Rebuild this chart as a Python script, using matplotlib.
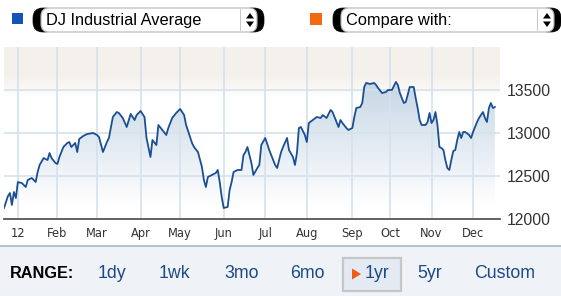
import numpy as np
import pandas as pd
import matplotlib
matplotlib.use("Agg")
import matplotlib.pyplot as plt
from matplotlib.patches import Polygon, Rectangle, FancyBboxPatch
from matplotlib.colors import LinearSegmentedColormap

plt.rcParams['font.family'] = ['Liberation Sans', 'DejaVu Sans']

# ---------------- data ----------------
holidays = ["2011-12-26", "2012-01-02", "2012-01-16", "2012-02-20", "2012-04-06",
            "2012-05-28", "2012-07-04", "2012-09-03", "2012-10-29", "2012-10-30",
            "2012-11-22"]
start_date = "2011-12-21"
end_date = "2012-12-20"

# trading session number (from start_date) and DJIA close
session = [0, 2, 3, 4, 5, 6, 7, 9, 11, 12, 14, 16, 17, 18, 20, 22, 23, 24, 26, 27,
           28, 30, 32, 33, 34, 36, 37, 38, 40, 42, 45, 47, 48, 50, 52, 53, 55, 57, 58, 60,
           62, 64, 66, 67, 69, 71, 72, 74, 75, 77, 78, 80, 82, 83, 85, 87, 89, 91, 92, 95,
           96, 98, 100, 101, 102, 103, 105, 107, 108, 109, 110, 111, 113, 114, 115, 116, 118, 120, 121, 122,
           123, 125, 126, 128, 129, 130, 132, 134, 135, 137, 138, 140, 141, 143, 144, 146, 147, 148, 149, 150,
           152, 153, 154, 156, 158, 160, 161, 163, 165, 166, 168, 169, 170, 171, 173, 174, 176, 177, 178, 180,
           181, 182, 183, 185, 187, 188, 189, 191, 193, 194, 196, 198, 199, 200, 202, 203, 205, 207, 208, 209,
           210, 211, 213, 214, 215, 216, 217, 218, 219, 220, 221, 222, 223, 224, 225, 226, 227, 228, 229, 230,
           231, 232, 233, 235, 236, 237, 239, 240, 242, 243, 244, 245, 246, 247, 248]
close = [12128, 12267, 12302, 12163, 12314, 12244, 12430, 12418, 12372, 12453, 12477, 12430, 12547, 12628, 12709, 12686, 12767, 12709, 12651, 12640,
         12721, 12837, 12884, 12895, 12837, 12884, 12779, 12930, 12965, 12988, 13000, 12977, 12953, 12779, 12895, 12942, 13186, 13244, 13233, 13175,
         13070, 13221, 13151, 13209, 13256, 13186, 12942, 12721, 12919, 12860, 13093, 13035, 12977, 13058, 13175, 13233, 13279, 13209, 13093, 12884,
         12837, 12779, 12605, 12453, 12372, 12488, 12512, 12535, 12570, 12430, 12256, 12128, 12140, 12337, 12430, 12547, 12570, 12570, 12744, 12779,
         12837, 12651, 12512, 12593, 12628, 12860, 12942, 12802, 12744, 12628, 12593, 12779, 12837, 12942, 12802, 12721, 12628, 12767, 13058, 13070,
         12977, 12895, 13116, 13151, 13186, 13175, 13209, 13175, 13268, 13244, 13128, 13070, 13151, 13116, 13058, 13035, 13058, 13186, 13291, 13302,
         13349, 13535, 13582, 13570, 13582, 13558, 13523, 13465, 13477, 13500, 13500, 13593, 13558, 13465, 13349, 13360, 13535, 13535, 13407, 13291,
         13151, 13093, 13093, 13128, 13233, 13116, 13151, 13244, 13093, 12837, 12826, 12802, 12686, 12593, 12570, 12686, 12791, 12802, 12919, 13012,
         12942, 13012, 13012, 12977, 12942, 13012, 13128, 13175, 13244, 13175, 13128, 13291, 13349, 13291, 13302]

month_labels = ["12", "Feb", "Mar", "Apr", "May", "Jun", "Jul", "Aug", "Sep", "Oct", "Nov", "Dec"]
y_ticks = [12000, 12500, 13000, 13500]
y_tick_labels = ["12000", "12500", "13000", "13500"]
range_labels = ["1dy", "1wk", "3mo", "6mo", "1yr", "5yr", "Custom"]
selected_range = "1yr"

# trading calendar -> positions of first session of every month
days = pd.bdate_range(start_date, end_date)
days = days[~days.isin(pd.to_datetime(holidays))]
first_idx = []
seen = set()
for i, d in enumerate(days):
    key = (d.year, d.month)
    if d.year == 2012 and key not in seen:
        seen.add(key)
        first_idx.append(i)

x = np.array(session, dtype=float)
y = np.array(close, dtype=float)
n_days = len(days)

# ---------------- figure ----------------
W, H = 561, 296
fig = plt.figure(figsize=(W / 100, H / 100), dpi=100)
fig.patch.set_facecolor("white")

# overlay axes in pixel coordinates for the UI furniture
ui = fig.add_axes([0, 0, 1, 1], zorder=0)
ui.set_xlim(0, W)
ui.set_ylim(H, 0)
ui.axis("off")

def dropdown(x0, x1, y0, y1, text):
    # black rounded end caps
    ui.add_patch(FancyBboxPatch((x0, y0), 22, y1 - y0,
                                boxstyle="round,pad=0,rounding_size=10",
                                facecolor="black", edgecolor="black", lw=0.5))
    ui.add_patch(FancyBboxPatch((x1 - 22, y0), 22, y1 - y0,
                                boxstyle="round,pad=0,rounding_size=10",
                                facecolor="black", edgecolor="black", lw=0.5))
    # white body
    ui.add_patch(FancyBboxPatch((x0 + 8, y0), x1 - x0 - 15, y1 - y0,
                                boxstyle="round,pad=0,rounding_size=8",
                                facecolor="white", edgecolor="#b4b4b4", lw=0.8))
    ui.add_patch(Rectangle((x1 - 24, y0 + 1), 0.8, y1 - y0 - 2, facecolor="#c8c8c8", lw=0))
    cx = x1 - 14
    cy = (y0 + y1) / 2
    ui.add_patch(Polygon([(cx - 4, cy - 1.5), (cx + 4, cy - 1.5), (cx, cy - 7)], closed=True,
                         facecolor="black", lw=0))
    ui.add_patch(Polygon([(cx - 4, cy + 1.5), (cx + 4, cy + 1.5), (cx, cy + 7)], closed=True,
                         facecolor="black", lw=0))
    ui.text(x0 + 13, cy + 0.5, text, fontsize=11.8, color="black", va="center", ha="left")

ui.add_patch(Rectangle((12, 13), 11, 11, facecolor="#1553b8", lw=0))
dropdown(33, 264, 8, 32, "DJ Industrial Average")
ui.add_patch(Rectangle((310, 13), 12, 12, facecolor="#f36a10", lw=0))
dropdown(333, 561, 8, 32, "Compare with:")

# bottom range bar
ui.add_patch(Rectangle((0, 246), W, 50, facecolor="#eff3f8", lw=0))
ui.plot([0, W], [246, 246], color="#b6c2ce", lw=1.4, solid_capstyle="butt")
ui.text(10, 273, "RANGE:", fontsize=11.7, fontweight="bold", color="black", va="center", ha="left")
range_x = [98, 159, 224, 290, 365, 417, 474]
for lab, rx in zip(range_labels, range_x):
    if lab == selected_range:
        ui.add_patch(Rectangle((343, 258), 58, 33, facecolor="#e3eaf3", edgecolor="#c6c6c6", lw=1.6))
        ui.add_patch(Polygon([(352, 268.5), (361, 274), (352, 279.5)], closed=True,
                             facecolor="#f05a14", lw=0))
    ui.text(rx, 274, lab, fontsize=12.8, color="#1d4a85", va="center", ha="left")

# ---------------- chart axes ----------------
left_px, right_px, top_px, bot_px = 4, 500, 47, 219
ax = fig.add_axes([left_px / W, (H - bot_px) / H, (right_px - left_px) / W, (bot_px - top_px) / H],
                  zorder=1)
ax.patch.set_alpha(0)
xmin, xmax = 0, (n_days - 1) + 0.6
ymin, ymax = 12000, 14000
ax.set_xlim(xmin, xmax)
ax.set_ylim(ymin, ymax)

# beige band at the top
beige = LinearSegmentedColormap.from_list("beige", [(0, "#ffffff"), (0.25, "#f8f5f2"),
                                                    (0.45, "#f5f1ed"), (1, "#f4f0ec")])
ax.imshow(np.linspace(0, 1, 256).reshape(-1, 1), extent=[xmin, xmax, 13420, ymax],
          aspect="auto", cmap=beige, origin="lower", zorder=0, interpolation="bilinear")

# gradient fill under the line
verts = list(zip(x, y)) + [(x[-1], ymin), (x[0], ymin)]
poly = Polygon(verts, closed=True, facecolor="none", edgecolor="none")
ax.add_patch(poly)
blue = LinearSegmentedColormap.from_list("blue", [(0, "#ffffff"), (0.35, "#eaf0f6"),
                                                  (0.7, "#d6e2ec"), (1, "#c3d4e3")])
im = ax.imshow(np.linspace(0, 1, 256).reshape(-1, 1), extent=[xmin, xmax, 12150, 13650],
               aspect="auto", cmap=blue, origin="lower", zorder=1, interpolation="bilinear")
im.set_clip_path(poly)

# grid
for xi in first_idx:
    ax.axvline(xi, color="#d5e1ec", lw=1.2, zorder=2)
for yv in y_ticks[1:]:
    ax.axhline(yv, color="#d5e1ec", lw=1.2, zorder=2)

ax.plot(x, y, color="#1b4f93", lw=1.3, zorder=3, solid_joinstyle="round")

ax.set_xticks(first_idx)
ax.set_xticklabels(month_labels, family="DejaVu Sans", fontsize=8.3, color="#333333")
ax.set_yticks(y_ticks)
ax.set_yticklabels(y_tick_labels, fontsize=11.3, color="#333333")
ax.yaxis.tick_right()
ax.tick_params(axis="x", length=0, pad=6)
ax.tick_params(axis="y", length=0, pad=5)
for s in ["left", "right", "top"]:
    ax.spines[s].set_visible(False)
ax.spines["bottom"].set_color("#555555")
ax.spines["bottom"].set_linewidth(1.3)
ax.spines["bottom"].set_zorder(4)

fig.savefig("out.png", dpi=100)
